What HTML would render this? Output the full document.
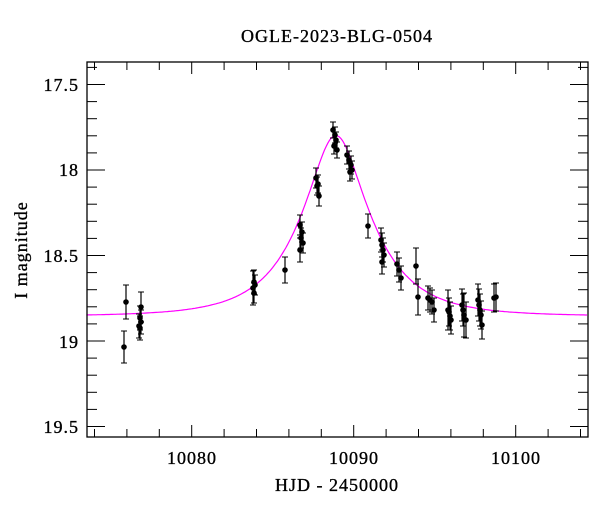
<!DOCTYPE html>
<html><head><meta charset="utf-8"><style>
html,body{margin:0;padding:0;background:#fff;}
svg{display:block;font-family:"Liberation Serif","DejaVu Serif",serif;}
.t{letter-spacing:1px;stroke:#000;stroke-width:0.35;}
</style></head><body>
<svg id="s" width="600" height="512" viewBox="0 0 600 512" xmlns="http://www.w3.org/2000/svg">
<rect width="600" height="512" fill="#fff"/>
<text class="t" x="337" y="42" font-size="18" text-anchor="middle">OGLE-2023-BLG-0504</text>
<text class="t" x="337" y="491" font-size="18" text-anchor="middle">HJD - 2450000</text>
<text class="t" transform="translate(27,250) rotate(-90)" font-size="18" text-anchor="middle">I magnitude</text>
<g class="t" font-size="18" text-anchor="middle">
<text x="192" y="464">10080</text><text x="354" y="464">10090</text><text x="516" y="464">10100</text>
</g>
<g class="t" font-size="18" text-anchor="end">
<text x="79" y="91">17.5</text><text x="79" y="176">18</text><text x="79" y="262">18.5</text><text x="79" y="348">19</text><text x="79" y="433">19.5</text>
</g>
<g id="ticks" stroke="#000" stroke-width="1"></g>
<path id="curve" fill="none" stroke="#ff00ff" stroke-width="1.2"/>
<g id="pts"></g>
<rect x="87" y="62" width="501" height="375" fill="none" stroke="#000" stroke-width="1.3"/>
</svg>
<script>
var X=function(t){return 191.7+16.2*(t-10080);};
var Y=function(m){return 170+171*(m-18);};
var tk=document.getElementById('ticks'),h='';
for(var t=10074;t<=10104;t+=2){var x=X(t),L=(t%10==0)?12:8;h+='<line x1="'+x+'" y1="437" x2="'+x+'" y2="'+(437-L)+'"/><line x1="'+x+'" y1="62" x2="'+x+'" y2="'+(62+L)+'"/>';}
for(var k=4;k<=25;k++){var m=k/10+17.0;var y=Y(m);if(y<62||y>437)continue;var L=(k%5==0)?18:10;h+='<line x1="87" y1="'+y+'" x2="'+(87+L)+'" y2="'+y+'"/><line x1="588" y1="'+y+'" x2="'+(588-L)+'" y2="'+y+'"/>';}
tk.innerHTML=h;
var d='';
for(var t=10073.5;t<=10104.5;t+=0.1){var u0=0.4,tE=3.96,dt=(t-10088.9)/tE,u2=u0*u0+dt*dt,u=Math.sqrt(u2),A=(u2+2)/(u*Math.sqrt(u2+4));var m=18.855-2.5*Math.log10(A);d+=(d?'L':'M')+X(t).toFixed(1)+' '+Y(m).toFixed(1);}
document.getElementById('curve').setAttribute('d',d);
var P=[[126,302,17],[124,347,16],[141,307,15],[140,318,12],[139,326,12],[140,328,12],[141,322,12],
[253,288,17],[254,282,12],[255,285,10],[254,293,10],[285,270,13],
[300,225,10],[302,232,10],[301,238,10],[303,243,10],[300,250,12],
[316,178,10],[318,184,9],[317,186,9],[319,196,10],
[333,130,8],[335,135,8],[336,140,8],[334,146,8],[337,150,8],
[347,155,9],[349,160,9],[351,165,9],[352,170,9],[350,172,9],
[368,226,12],
[381,240,12],[382,245,12],[383,250,12],[384,255,12],[382,262,12],
[397,264,12],[399,270,12],[401,278,12],
[416,266,18],[418,297,18],
[428,298,12],[430,300,12],[432,302,12],[434,310,12],
[448,310,20],[449,312,14],[450,316,14],[451,320,14],
[462,305,16],[463,310,16],[464,315,22],[466,320,18],
[478,300,16],[479,305,16],[480,310,16],[481,315,14],[482,325,14],
[494,298,14],[496,297,14]];
var g='';P.forEach(function(p){var x=p[0],y=p[1],e=p[2];g+='<line x1="'+x+'" y1="'+(y-e)+'" x2="'+x+'" y2="'+(y+e)+'" stroke="#000" stroke-width="1.2"/><line x1="'+(x-3)+'" y1="'+(y-e)+'" x2="'+(x+3)+'" y2="'+(y-e)+'" stroke="#000"/><line x1="'+(x-3)+'" y1="'+(y+e)+'" x2="'+(x+3)+'" y2="'+(y+e)+'" stroke="#000"/><circle cx="'+x+'" cy="'+y+'" r="2.8" fill="#000"/>';});
document.getElementById('pts').innerHTML=g;
</script>
</body></html>
